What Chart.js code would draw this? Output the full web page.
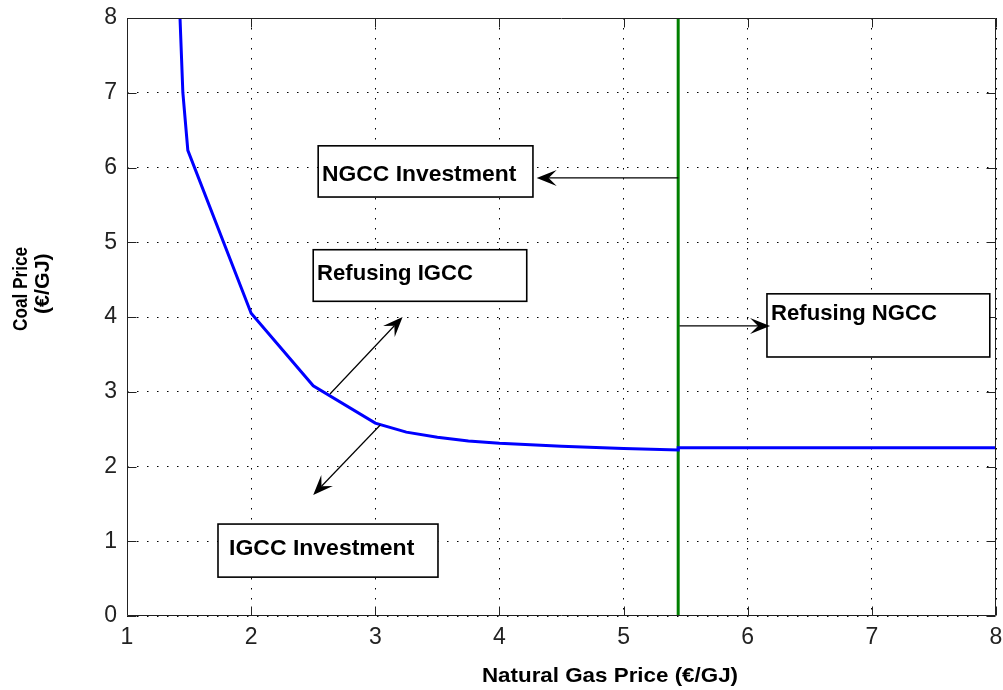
<!DOCTYPE html>
<html><head><meta charset="utf-8">
<script src="https://cdn.jsdelivr.net/npm/chart.js@4.4.1/dist/chart.umd.min.js"></script>
<style>html,body{margin:0;padding:0;background:#fff;}#wrap{width:1003px;height:690px;}</style>
</head><body><div id="wrap"><canvas id="c" width="1003" height="690"></canvas></div>
<script>
// ---- data ----
const gasPrice  = [1.427, 1.45, 1.49, 2.0, 2.5, 3.0, 3.25, 3.5, 3.75, 4.0, 4.5, 5.0, 5.44, 5.44, 8.0];
const coalPrice = [8.0, 7.0, 6.23, 4.05, 3.08, 2.58, 2.46, 2.39, 2.34, 2.31, 2.27, 2.24, 2.22, 2.25, 2.25];
const thresholdGas  = [5.44, 5.44];
const thresholdCoal = [0, 8];
const xTicks = [1, 2, 3, 4, 5, 6, 7, 8];
const yTicks = [0, 1, 2, 3, 4, 5, 6, 7, 8];
const xTitle = 'Natural Gas Price (€/GJ)';
const yTitle = ['Coal Price', '(€/GJ)'];
const noteTexts = ['NGCC Investment', 'Refusing IGCC', 'Refusing NGCC', 'IGCC Investment'];

// ---- annotation layout (data units) ----
const noteLayout = [
  {box: [2.54, 6.29, 4.27, 5.605], tx: [2.579, 4.142], base: 5.82},
  {box: [2.50, 4.90, 4.22, 4.21],  tx: [2.539, 3.787], base: 4.50},
  {box: [6.155, 4.31, 7.95, 3.465], tx: [6.196, 7.525], base: 3.96},
  {box: [1.733, 1.23, 3.505, 0.52], tx: [1.830, 3.320], base: 0.816}
];
const arrowLayout = [
  {from: [5.44, 5.86], to: [4.30, 5.86]},
  {from: [5.45, 3.88], to: [6.18, 3.88]},
  {from: [2.635, 2.97], to: [3.22, 4.0]},
  {from: [3.04, 2.555], to: [2.50, 1.62]}
];

const FONT = "'Liberation Sans', Arial, sans-serif";

function fitText(ctx, text, x0, x1, baseY, font) {
  ctx.font = font;
  ctx.textAlign = 'left';
  ctx.textBaseline = 'alphabetic';
  const m = ctx.measureText(text);
  const ink = m.actualBoundingBoxLeft + m.actualBoundingBoxRight;
  const s = (x1 - x0) / ink;
  ctx.save();
  ctx.translate(x0 + m.actualBoundingBoxLeft * s, baseY);
  ctx.scale(s, 1);
  ctx.fillText(text, 0, 0);
  ctx.restore();
}

function arrow(ctx, x1, y1, x2, y2) {
  const ang = Math.atan2(y2 - y1, x2 - x1);
  const len = 20, hw = 8, notch = 12;
  ctx.beginPath();
  ctx.moveTo(x1, y1);
  ctx.lineTo(x2 - Math.cos(ang) * notch, y2 - Math.sin(ang) * notch);
  ctx.stroke();
  const c = Math.cos(ang), s = Math.sin(ang);
  const bx = x2 - c * len, by = y2 - s * len;
  ctx.beginPath();
  ctx.moveTo(x2, y2);
  ctx.lineTo(bx - s * hw, by + c * hw);
  ctx.lineTo(x2 - c * notch, y2 - s * notch);
  ctx.lineTo(bx + s * hw, by - c * hw);
  ctx.closePath();
  ctx.fill();
}

const matlabPlugin = {
  id: 'matlabFrame',
  afterDatasetsDraw(chart) {
    const {ctx, chartArea: a, scales: {x, y}} = chart;
    ctx.save();
    const L = Math.round(a.left) + 0.5, R = Math.round(a.right) - 0.5;
    const T = Math.round(a.top) + 0.5, B = Math.round(a.bottom) - 0.5;
    ctx.strokeStyle = '#222';
    ctx.lineWidth = 1;
    ctx.beginPath();
    ctx.rect(L, T, R - L, B - T);
    ctx.stroke();
    const tl = 9;
    ctx.beginPath();
    xTicks.forEach(v => {
      const p = Math.round(x.getPixelForValue(v)) + 0.5;
      ctx.moveTo(p, B); ctx.lineTo(p, B - tl);
      ctx.moveTo(p, T); ctx.lineTo(p, T + tl);
    });
    yTicks.forEach(v => {
      const p = Math.round(y.getPixelForValue(v)) + 0.5;
      ctx.moveTo(L, p); ctx.lineTo(L + tl, p);
      ctx.moveTo(R, p); ctx.lineTo(R - tl, p);
    });
    ctx.stroke();

    noteLayout.forEach((n, i) => {
      const bx0 = x.getPixelForValue(n.box[0]), by0 = y.getPixelForValue(n.box[1]);
      const bx1 = x.getPixelForValue(n.box[2]), by1 = y.getPixelForValue(n.box[3]);
      ctx.fillStyle = '#fff';
      ctx.fillRect(bx0, by0, bx1 - bx0, by1 - by0);
      ctx.strokeStyle = '#000';
      ctx.lineWidth = 1.6;
      ctx.strokeRect(bx0, by0, bx1 - bx0, by1 - by0);
      ctx.fillStyle = '#000';
      fitText(ctx, noteTexts[i], x.getPixelForValue(n.tx[0]), x.getPixelForValue(n.tx[1]),
              y.getPixelForValue(n.base), 'bold 22px ' + FONT);
    });
    ctx.strokeStyle = '#000';
    ctx.fillStyle = '#000';
    ctx.lineWidth = 1.2;
    arrowLayout.forEach(ar => {
      arrow(ctx, x.getPixelForValue(ar.from[0]), y.getPixelForValue(ar.from[1]),
                 x.getPixelForValue(ar.to[0]), y.getPixelForValue(ar.to[1]));
    });
    ctx.restore();
  },
  afterDraw(chart) {
    const {ctx} = chart;
    ctx.save();
    ctx.fillStyle = '#000';
    fitText(ctx, xTitle, 483, 737, 682, 'bold 21px ' + FONT);
    const lines = [
      {t: yTitle[0], y0: 331, y1: 247, base: 27},
      {t: yTitle[1], y0: 313, y1: 254, base: 49}
    ];
    lines.forEach(l => {
      ctx.save();
      ctx.translate(l.base, 0);
      ctx.rotate(-Math.PI / 2);
      fitText(ctx, l.t, -l.y0, -l.y1, 0, 'bold 20px ' + FONT);
      ctx.restore();
    });
    ctx.restore();
  }
};

function noPad(s) { s.paddingTop = 0; s.paddingBottom = 0; s.paddingLeft = 0; s.paddingRight = 0; }

new Chart(document.getElementById('c'), {
  type: 'scatter',
  data: {
    datasets: [
      {
        data: gasPrice.map((g, i) => ({x: g, y: coalPrice[i]})),
        showLine: true, borderColor: '#0000ff', borderWidth: 3,
        pointRadius: 0, tension: 0, fill: false
      },
      {
        data: thresholdGas.map((g, i) => ({x: g, y: thresholdCoal[i]})),
        showLine: true, borderColor: '#008000', borderWidth: 3,
        pointRadius: 0, tension: 0, fill: false
      }
    ]
  },
  options: {
    responsive: false,
    animation: false,
    devicePixelRatio: 1,
    layout: {padding: {left: 0, top: 18, right: 7, bottom: 0}},
    plugins: {legend: {display: false}, tooltip: {enabled: false}},
    scales: {
      x: {
        type: 'linear', min: 1, max: 8,
        afterBuildTicks: s => { s.ticks = xTicks.map(v => ({value: v})); },
        afterFit: s => { s.height = 74; noPad(s); },
        ticks: {color: '#222', padding: 8, font: {family: FONT, size: 23}, callback: v => String(v)},
        grid: {color: '#000', lineWidth: 1, drawTicks: false},
        border: {display: false, dash: [1.5, 8.5]}
      },
      y: {
        type: 'linear', min: 0, max: 8,
        afterBuildTicks: s => { s.ticks = yTicks.map(v => ({value: v})); },
        afterFit: s => { s.width = 127; noPad(s); },
        ticks: {color: '#222', padding: 10, font: {family: FONT, size: 23}, callback: v => String(v)},
        grid: {color: '#000', lineWidth: 1, drawTicks: false},
        border: {display: false, dash: [1.5, 8.5]}
      }
    }
  },
  plugins: [matlabPlugin]
});
</script>
</body></html>
